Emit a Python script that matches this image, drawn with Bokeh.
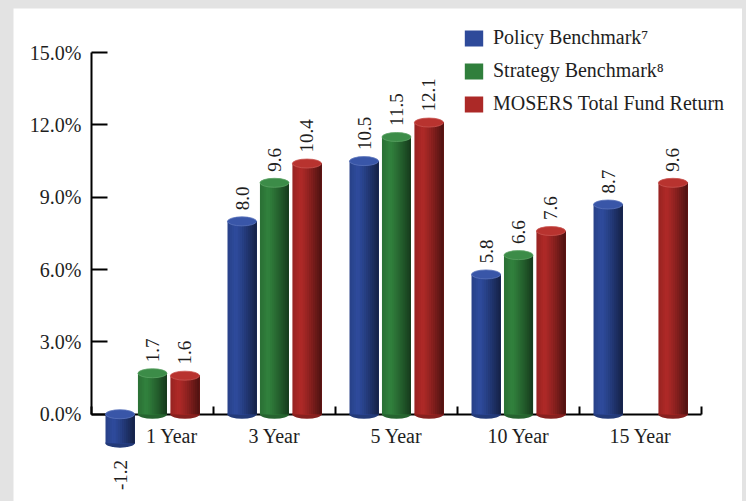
import numpy as np
from bokeh.plotting import figure
from bokeh.models import (ColumnDataSource, FixedTicker, PrintfTickFormatter,
                          Legend, LegendItem, Range1d)
from bokeh.layouts import column
from bokeh.transform import dodge
from bokeh.embed import file_html
from bokeh.resources import INLINE

# ---- data -------------------------------------------------------------
periods = ["1 Year", "3 Year", "5 Year", "10 Year", "15 Year"]
policy_benchmark = [-1.2, 8.0, 10.5, 5.8, 8.7]
strategy_benchmark = [1.7, 9.6, 11.5, 6.6, None]
total_fund_return = [1.6, 10.4, 12.1, 7.6, 9.6]
series_names = ["Policy Benchmark\u2077", "Strategy Benchmark\u2078",
                "MOSERS Total Fund Return"]
y_ticks = [0, 3, 6, 9, 12, 15]

# ---- styling ----------------------------------------------------------
FONT = "Liberation Serif"
BASE_RGB = [(47, 76, 158), (50, 130, 62), (176, 42, 40)]
CAP_COLORS = ["#3956a8", "#3c8c48", "#b8332f"]
CAP_EDGE = ["#5a74bb", "#5aa263", "#c95450"]
BAR_W = 0.238      # cylinder width, in category units
STEP = 0.266       # distance between neighbouring cylinders
N_STRIPS = 14
CAP_H = 9          # ellipse height in pixels


def shade(rgb, t):
    """Cylinder lighting: bright a quarter of the way in, dark on the right."""
    if t < 0.28:
        f = 0.86 + 0.14 * (t / 0.28)
    else:
        f = 1.0 - 0.56 * ((t - 0.28) / 0.72) ** 1.15
    r, g, b = (int(max(0, min(255, c * f))) for c in rgb)
    return "#%02x%02x%02x" % (r, g, b)


p = figure(width=729, height=493,
           x_range=Range1d(-0.639, 5.336), y_range=Range1d(-3.62, 16.83),
           output_backend="svg", toolbar_location=None,
           min_border=0, outline_line_color=None,
           background_fill_color="white", border_fill_color="white")
p.xgrid.visible = False
p.ygrid.visible = False
p.margin = (8, 4, 0, 13)

legend_renderers = []
all_series = [policy_benchmark, strategy_benchmark, total_fund_return]
dw = BAR_W / N_STRIPS
for s, vals in enumerate(all_series):
    idx = [i for i, v in enumerate(vals) if v is not None]
    v = np.array([vals[i] for i in idx], dtype=float)
    x = np.array(idx, dtype=float) + 0.5 + (s - 1) * STEP
    src = ColumnDataSource(dict(x=x, top=np.maximum(v, 0), bot=np.minimum(v, 0)))
    rgb = BASE_RGB[s]

    # rounded bottom of each cylinder
    p.ellipse(x="x", y="bot", width=BAR_W, height=CAP_H, height_units="screen",
              source=src, fill_color=shade(rgb, 0.62), line_color=None,
              level="overlay")
    # shaded body: each layer runs from its own left edge to the right side,
    # so consecutive layers overlap and leave no seams
    mid = None
    for k in range(N_STRIPS):
        t = (k + 0.5) / N_STRIPS
        c = shade(rgb, t)
        r = p.vbar(x=dodge("x", k * dw / 2), width=BAR_W - k * dw,
                   top="top", bottom="bot", source=src,
                   fill_color=c, line_color=None, level="overlay")
        if k == N_STRIPS // 3:
            mid = r
    legend_renderers.append(mid)
    # top face
    p.ellipse(x="x", y="top", width=BAR_W, height=CAP_H, height_units="screen",
              source=src, fill_color=CAP_COLORS[s], line_color=CAP_EDGE[s],
              line_width=0.8, level="overlay")

    # value labels, rotated, above positive and below negative bars
    pos = v >= 0
    pos_src = ColumnDataSource(dict(x=x[pos], y=v[pos] + 0.46,
                                    lab=["%.1f" % a for a in v[pos]]))
    neg_src = ColumnDataSource(dict(x=x[~pos], y=v[~pos] - 0.70,
                                    lab=["%.1f" % a for a in v[~pos]]))
    for ssrc, align in ((pos_src, "left"), (neg_src, "right")):
        p.text(x="x", y="y", text="lab", source=ssrc, angle=np.pi / 2,
               text_align=align, text_baseline="middle",
               text_font={"value": FONT}, text_font_size="19px",
               text_color="#1e1e1e")

# ---- y axis -------------------------------------------------------------
ya = p.yaxis[0]
ya.fixed_location = 0
ya.bounds = (0, 15)
ya.ticker = FixedTicker(ticks=y_ticks, minor_ticks=[])
ya.formatter = PrintfTickFormatter(format="%.1f%%")
ya.major_tick_in = 16
ya.major_tick_out = 0
ya.minor_tick_in = 0
ya.minor_tick_out = 0
ya.axis_line_width = 2
ya.major_tick_line_width = 2
ya.axis_line_color = "black"
ya.major_tick_line_color = "black"
ya.major_label_standoff = 10
ya.major_label_text_font = FONT
ya.major_label_text_font_size = "20px"
ya.major_label_text_color = "#1e1e1e"

# ---- x axis: labels under each period, ticks between periods -------------
label_pos = [i + 0.5 for i in range(len(periods))]
label_pos[0] += 0.16   # keep the first label clear of the negative bar
xa = p.xaxis[0]
xa.fixed_location = 0
xa.bounds = (0, len(periods))
xa.ticker = FixedTicker(ticks=label_pos,
                        minor_ticks=list(range(len(periods) + 1)))
xa.major_label_overrides = {lp: name for lp, name in zip(label_pos, periods)}
xa.major_tick_in = 0
xa.major_tick_out = 0
xa.minor_tick_in = 8
xa.minor_tick_out = 0
xa.minor_tick_line_width = 2
xa.minor_tick_line_color = "black"
xa.axis_line_width = 2
xa.axis_line_color = "black"
xa.major_label_standoff = 11
xa.major_label_text_font = FONT
xa.major_label_text_font_size = "20px"
xa.major_label_text_color = "#1e1e1e"

# ---- legend ---------------------------------------------------------------
legend = Legend(items=[LegendItem(label=n, renderers=[r])
                       for n, r in zip(series_names, legend_renderers)],
                location=(449, 386), glyph_width=23, glyph_height=20,
                label_height=20, spacing=10, padding=0, margin=0,
                label_standoff=8, label_text_font=FONT,
                label_text_font_size="20px", label_text_color="#1e1e1e",
                background_fill_alpha=0, border_line_color=None)
p.add_layout(legend)

layout = column(p, styles={"background-color": "#e3e3e3"})
open("out.html", "w").write(file_html(layout, INLINE))
